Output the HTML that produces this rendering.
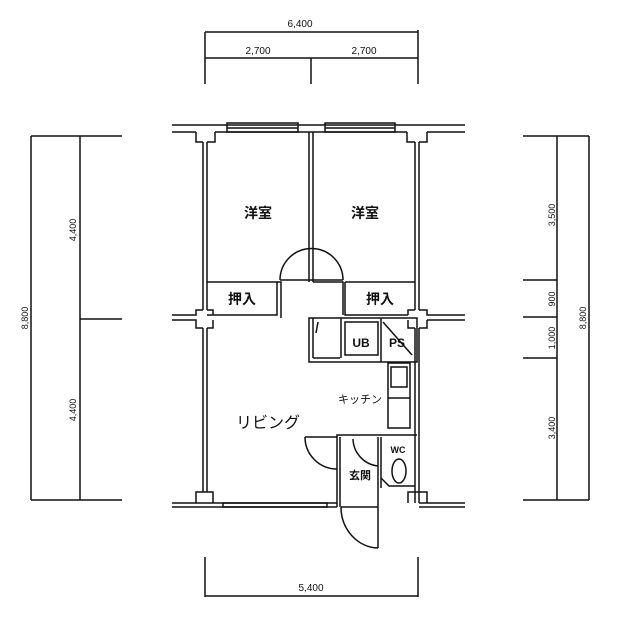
<!DOCTYPE html>
<html><head><meta charset="utf-8"><style>
html,body{margin:0;padding:0;background:#fff}
svg{display:block}
text{font-family:"Liberation Sans","Noto Sans CJK JP",sans-serif;fill:#111}
</style></head><body>
<svg width="640" height="640" viewBox="0 0 640 640" xmlns="http://www.w3.org/2000/svg">
<g stroke="#111" fill="none" stroke-width="1.5">
<line x1="205" y1="32" x2="418" y2="32"/>
<line x1="205" y1="58" x2="418" y2="58"/>
<line x1="205" y1="32" x2="205" y2="84"/>
<line x1="418" y1="30" x2="418" y2="84"/>
<line x1="311" y1="58" x2="311" y2="84"/>
<line x1="205" y1="596" x2="418" y2="596"/>
<line x1="205" y1="557" x2="205" y2="597"/>
<line x1="418" y1="557" x2="418" y2="597"/>
<line x1="31" y1="136" x2="31" y2="500"/>
<line x1="80" y1="136" x2="80" y2="500"/>
<line x1="31" y1="136" x2="122" y2="136"/>
<line x1="80" y1="319" x2="122" y2="319"/>
<line x1="31" y1="500" x2="122" y2="500"/>
<line x1="557" y1="136" x2="557" y2="500"/>
<line x1="589" y1="136" x2="589" y2="500"/>
<line x1="523" y1="136" x2="589" y2="136"/>
<line x1="523" y1="280" x2="557" y2="280"/>
<line x1="523" y1="317" x2="557" y2="317"/>
<line x1="523" y1="358" x2="557" y2="358"/>
<line x1="523" y1="500" x2="589" y2="500"/>

<line x1="172" y1="125" x2="465" y2="125"/>
<line x1="172" y1="132" x2="196" y2="132"/>
<line x1="215" y1="132" x2="407" y2="132"/>
<line x1="427" y1="132" x2="465" y2="132"/>
<rect x="227" y="123" width="71" height="9"/>
<rect x="325" y="123" width="70" height="9"/>
<line x1="227" y1="128" x2="298" y2="128"/>
<line x1="325" y1="128" x2="395" y2="128"/>
<path d="M196 132 V142 H203 M207 142 H215 V132"/>
<path d="M407 132 V142 H415 M419 142 H427 V132"/>
<line x1="203" y1="142" x2="203" y2="310"/>
<line x1="207" y1="142" x2="207" y2="310"/>
<line x1="309" y1="132" x2="309" y2="282"/>
<line x1="313" y1="132" x2="313" y2="282"/>
<line x1="415" y1="142" x2="415" y2="310"/>
<line x1="419" y1="142" x2="419" y2="310"/>
<path d="M207 282 H277 V315 H207"/>
<path d="M277 282 H281 V318"/>
<path d="M313 282 H343 V315"/>
<path d="M345 282 H415 M345 282 V315 H408"/>
<path d="M280 280 A31 31 0 0 1 343 280"/>
<line x1="280" y1="280" x2="343" y2="280"/>
<path d="M172 315 H196 V310 H203 M207 310 H213 V315 M172 320 H196 V328 H203 M207 328 H213 V320"/>
<path d="M408 315 V310 H415 M419 310 H427 V315 H465 M427 320 H465 M427 320 V328 H419 M415 328 H408 V320"/>
<line x1="203" y1="328" x2="203" y2="492"/>
<line x1="207" y1="328" x2="207" y2="492"/>
<rect x="309" y="318" width="108" height="44"/>
<line x1="313" y1="318" x2="313" y2="358"/>
<line x1="313" y1="358" x2="340" y2="358"/>
<rect x="345" y="322" width="33" height="33"/>
<line x1="341" y1="318" x2="341" y2="358"/>
<line x1="381" y1="318" x2="381" y2="362"/>
<line x1="383" y1="322" x2="412" y2="355"/>
<line x1="318" y1="322" x2="316" y2="333"/>
<line x1="415" y1="328" x2="415" y2="503"/>
<line x1="419" y1="328" x2="419" y2="503"/>
<rect x="388" y="363" width="22" height="65"/>
<line x1="388" y1="398" x2="410" y2="398"/>
<rect x="391" y="367" width="16" height="20"/>
<path d="M337 507 V435 H417"/>
<line x1="340" y1="437" x2="340" y2="507"/>
<line x1="378" y1="437" x2="378" y2="507"/>
<line x1="381" y1="437" x2="381" y2="488"/>
<path d="M305 437 H337"/>
<path d="M305 437 A32 32 0 0 0 337 469"/>
<path d="M353 439 A28 28 0 0 0 378 466"/>
<ellipse cx="399" cy="471" rx="7" ry="12"/>
<path d="M381 478 L389 486 H415"/>
<line x1="172" y1="503" x2="337" y2="503"/>
<line x1="172" y1="507" x2="337" y2="507"/>
<line x1="419" y1="503" x2="465" y2="503"/>
<line x1="419" y1="507" x2="465" y2="507"/>
<rect x="223" y="503" width="104" height="4"/>
<path d="M196 503 V492 H213 V503"/>
<path d="M408 503 V492 H427 V503"/>
<line x1="378" y1="507" x2="378" y2="548"/>
<path d="M341 507 A38 41 0 0 0 378 548"/>
<line x1="341" y1="507" x2="378" y2="507"/>
</g>
<g font-size="10">
<text x="300" y="27" text-anchor="middle">6,400</text>
<text x="258" y="54" text-anchor="middle">2,700</text>
<text x="364" y="54" text-anchor="middle">2,700</text>
<text x="311" y="591" text-anchor="middle">5,400</text>
<text transform="translate(28,318) rotate(-90)" text-anchor="middle" font-size="9">8,800</text>
<text transform="translate(76,230) rotate(-90)" text-anchor="middle" font-size="9">4,400</text>
<text transform="translate(76,410) rotate(-90)" text-anchor="middle" font-size="9">4,400</text>
<text transform="translate(555,215) rotate(-90)" text-anchor="middle" font-size="9">3,500</text>
<text transform="translate(555,299) rotate(-90)" text-anchor="middle" font-size="9">900</text>
<text transform="translate(555,338) rotate(-90)" text-anchor="middle" font-size="9">1,000</text>
<text transform="translate(555,428) rotate(-90)" text-anchor="middle" font-size="9">3,400</text>
<text transform="translate(586,318) rotate(-90)" text-anchor="middle" font-size="9">8,800</text>
</g>
<g text-anchor="middle" font-weight="bold">
<text x="258" y="218" font-size="14">洋室</text>
<text x="365" y="218" font-size="14">洋室</text>
<text x="242" y="304" font-size="14">押入</text>
<text x="380" y="304" font-size="14">押入</text>
<text x="268" y="428" font-size="16" font-weight="normal">リビング</text>
<text x="360" y="403" font-size="11" font-weight="normal">キッチン</text>
<text x="361" y="347" font-size="12">UB</text>
<text x="397" y="347" font-size="12">PS</text>
<text x="398" y="453" font-size="9">WC</text>
<text x="360" y="479" font-size="11">玄関</text>
</g>
</svg>
</body></html>
